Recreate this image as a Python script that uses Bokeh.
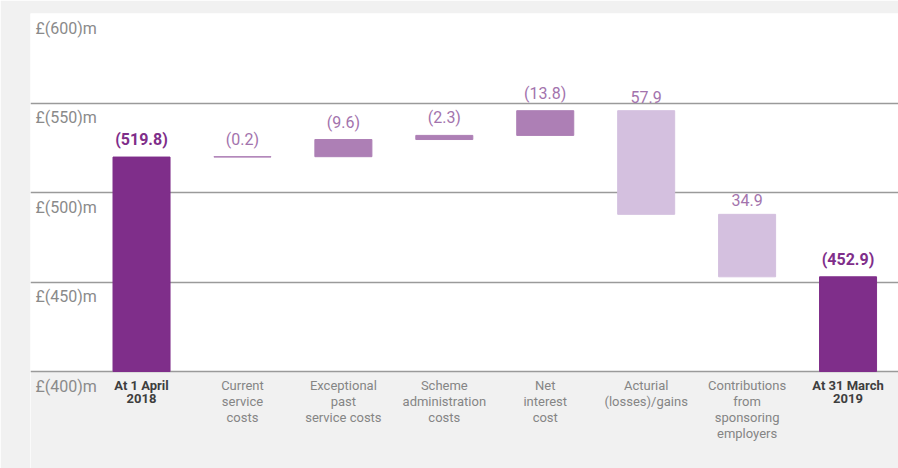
from bokeh.plotting import figure
from bokeh.models import ColumnDataSource, Range1d, FixedTicker, LabelSet, BoxAnnotation
from bokeh.core.properties import value
from bokeh.embed import file_html
from bokeh.resources import INLINE

categories = ["At 1 April\n2018", "Current\nservice\ncosts", "Exceptional\npast\nservice costs",
              "Scheme\nadministration\ncosts", "Net\ninterest\ncost", "Acturial\n(losses)/gains",
              "Contributions\nfrom\nsponsoring\nemployers", "At 31 March\n2019"]
changes = [519.8, 0.2, 9.6, 2.3, 13.8, -57.9, -34.9, 452.9]
value_labels = ["(519.8)", "(0.2)", "(9.6)", "(2.3)", "(13.8)", "57.9", "34.9", "(452.9)"]
kinds = ["total", "cost", "cost", "cost", "cost", "gain", "gain", "total"]
y_ticks = [400, 450, 500, 550, 600]
y_tick_labels = ["£(400)m", "£(450)m", "£(500)m", "£(550)m", "£(600)m"]
y_min, y_max = 400, 600

fill = {"total": "#7f2e8a", "cost": "#ad7fb5", "gain": "#d4c0df"}
label_col = {"total": "#7f2e8a", "cost": "#a373ad", "gain": "#a373ad"}

bottoms, tops = [], []
running = 0.0
for c, k in zip(changes, kinds):
    if k == "total":
        b, t = y_min, c
        running = c
    else:
        b, t = running, running + c
        running = t
    bottoms.append(min(b, t))
    tops.append(max(b, t))

xs = [i + 0.5 for i in range(len(categories))]
src = ColumnDataSource(dict(
    x=xs, bottom=bottoms, top=tops,
    color=[fill[k] for k in kinds],
    lab=value_labels,
    lcol=[label_col[k] for k in kinds],
    font_style=["bold" if k == "total" else "normal" for k in kinds],
))

# one row per text line so each line is centred on its own
cx, ctext, coff, ccol, cstyle, cbase = [], [], [], [], [], []
for x, c, k in zip(xs, categories, kinds):
    for j, line in enumerate(c.split("\n")):
        cx.append(x)
        ctext.append(line)
        coff.append(-6 - 16 * j)
        ccol.append("#3e3e3e" if k == "total" else "#858585")
        cstyle.append("bold" if k == "total" else "normal")
        cbase.append(y_min)
cat_src = ColumnDataSource(dict(x=cx, y=cbase, t=ctext, off=coff, col=ccol, st=cstyle))
tick_src = ColumnDataSource(dict(x=[-0.6] * len(y_ticks), y=y_ticks, t=y_tick_labels))

# frame extends below the £(400)m line so the category texts sit inside it
frame_h, plot_h = 455, 358
y_start = y_min - (frame_h - plot_h) / plot_h * (y_max - y_min)

p = figure(width=898, height=468, output_backend="svg", toolbar_location=None,
           x_range=Range1d(-0.6, 8.0), y_range=Range1d(y_start, y_max),
           min_border_left=30, min_border_right=0, min_border_top=13, min_border_bottom=0)
p.border_fill_color = "#f1f1f1"
p.background_fill_color = "white"
p.outline_line_color = None
p.xaxis.visible = False
p.yaxis.visible = False
p.xgrid.visible = False
p.ygrid.ticker = FixedTicker(ticks=y_ticks)
p.ygrid.grid_line_color = "#9a9a9a"
p.ygrid.grid_line_width = 1.5

p.add_layout(BoxAnnotation(top=y_min, fill_color="#f1f1f1", fill_alpha=1.0,
                           line_color=None, level="image"))

p.vbar(x="x", bottom="bottom", top="top", width=0.565, fill_color="color",
       line_color="color", line_width=1, source=src)

p.add_layout(LabelSet(x="x", y="top", text="lab", source=src, text_align="center",
                      text_baseline="bottom", y_offset=8, text_color="lcol",
                      text_font=value("Roboto"), text_font_size="16px",
                      text_font_style="font_style"))

p.add_layout(LabelSet(x="x", y="y", text="t", source=tick_src, x_offset=5, y_offset=-5,
                      text_baseline="top", text_align="left", text_color="#8a8a8a",
                      text_font=value("Roboto"), text_font_size="16px"))

p.add_layout(LabelSet(x="x", y="y", text="t", source=cat_src, y_offset="off",
                      text_baseline="top", text_align="center", text_color="col",
                      text_font=value("Roboto"), text_font_size="13px",
                      text_font_style="st"))

open("out.html", "w").write(file_html(p, INLINE))
